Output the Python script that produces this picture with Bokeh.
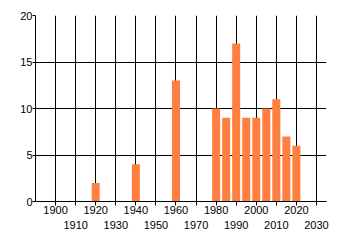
from bokeh.plotting import figure
from bokeh.models import Range1d, FixedTicker, LinearAxis, ColumnDataSource
from bokeh.embed import file_html
from bokeh.resources import INLINE

years = [1920, 1940, 1960, 1980, 1985, 1990, 1995, 2000, 2005, 2010, 2015, 2020]
counts = [2, 4, 13, 10, 9, 17, 9, 9, 10, 11, 7, 6]
decade_ticks = list(range(1900, 2031, 10))
row1_labels = list(range(1900, 2021, 20))
row2_labels = list(range(1910, 2031, 20))
y_ticks = [0, 5, 10, 15, 20]

FONT = "Liberation Sans"
FS = "11px"

p = figure(width=340, height=245, output_backend="svg", toolbar_location=None,
           x_range=Range1d(1890, 2035), y_range=Range1d(0, 20),
           x_axis_location=None, y_axis_location=None,
           min_border_left=35, min_border_right=14, min_border_top=15, min_border_bottom=44)
p.outline_line_color = None
p.background_fill_color = "white"
p.border_fill_color = "white"

src = ColumnDataSource(dict(x=years, top=counts))
p.vbar(x="x", top="top", width=4, source=src, fill_color="#FF7F40", line_color=None)

# y axis
ya = LinearAxis(ticker=FixedTicker(ticks=y_ticks))
ya.axis_line_color = "black"
ya.major_tick_line_color = "black"
ya.major_tick_out = 3
ya.major_tick_in = 0
ya.minor_tick_line_color = None
ya.major_label_text_font = FONT
ya.major_label_text_font_size = FS
ya.major_label_text_color = "black"
ya.major_label_standoff = 0
p.add_layout(ya, "left")

# x axis row 1
xa = LinearAxis(ticker=FixedTicker(ticks=decade_ticks))
xa.axis_line_color = "black"
xa.major_tick_line_color = "black"
xa.major_tick_out = 4
xa.major_tick_in = 0
xa.minor_tick_line_color = None
xa.major_label_overrides = {t: (str(t) if t in row1_labels else "") for t in decade_ticks}
xa.major_label_text_font = FONT
xa.major_label_text_font_size = FS
xa.major_label_text_color = "black"
xa.major_label_standoff = 0
p.add_layout(xa, "below")

# x axis row 2
xb = LinearAxis(ticker=FixedTicker(ticks=row2_labels))
xb.axis_line_color = None
xb.major_tick_line_color = None
xb.major_tick_out = 0
xb.major_tick_in = 0
xb.minor_tick_line_color = None
xb.major_label_text_font = FONT
xb.major_label_text_font_size = FS
xb.major_label_text_color = "black"
xb.major_label_standoff = 4
p.add_layout(xb, "below")

p.xgrid.ticker = FixedTicker(ticks=decade_ticks)
p.ygrid.ticker = FixedTicker(ticks=y_ticks)
p.xgrid.grid_line_color = "black"
p.ygrid.grid_line_color = "black"
p.xgrid.grid_line_width = 1
p.ygrid.grid_line_width = 1

open("out.html", "w").write(file_html(p, INLINE))
